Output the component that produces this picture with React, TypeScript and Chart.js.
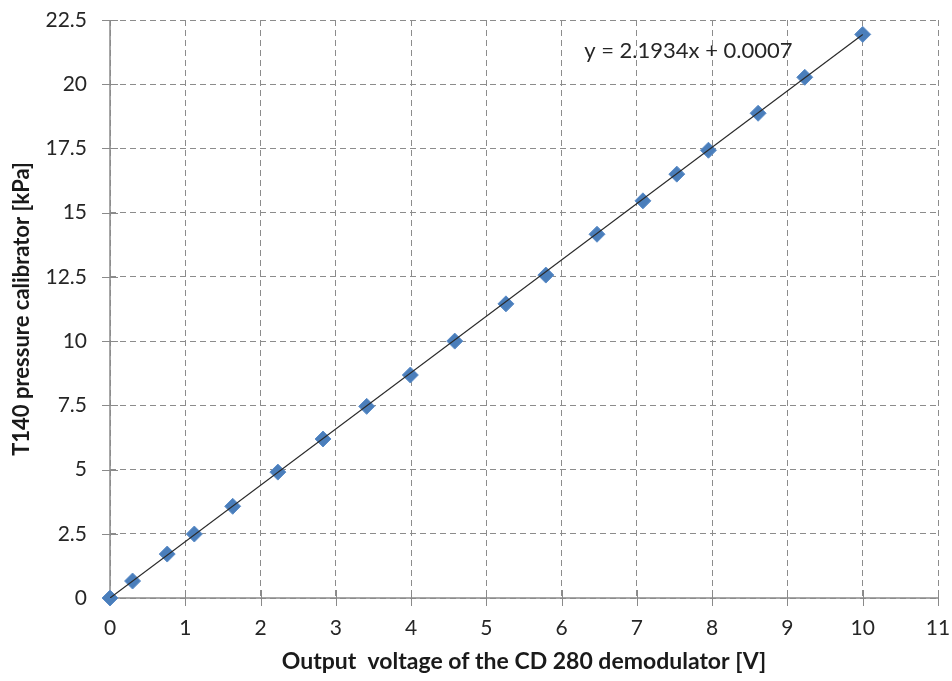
import React, { useEffect, useRef } from "react";
import { Chart, registerables } from "chart.js";

Chart.register(...registerables);

// Calibration measurements: demodulator output voltage vs. calibrator pressure
const voltage = [0, 0.3, 0.76, 1.12, 1.63, 2.23, 2.83, 3.41, 3.99, 4.58, 5.26, 5.79, 6.47, 7.08, 7.53, 7.95, 8.61, 9.23, 10.0];
const pressure = [0, 0.66, 1.71, 2.49, 3.57, 4.9, 6.19, 7.46, 8.68, 10.0, 11.45, 12.57, 14.16, 15.46, 16.5, 17.43, 18.87, 20.27, 21.94];

// Linear trendline y = slope * x + intercept
const slope = 2.1934;
const intercept = 0.0007;
const trendRange = [0, 10];
const equationLabel = "y = 2.1934x + 0.0007";

const xTitle = "Output  voltage of the CD 280 demodulator [V]";
const yTitle = "T140 pressure calibrator [kPa]";

const FONT = "Lato, 'Open Sans', sans-serif";
const AXIS_GRAY = "#8a8a8a";
const GRID_GRAY = "#8c8c8c";

// Solid axis lines with cross tick marks on the left and bottom edges
const axisLinesPlugin = {
  id: "axisLines",
  beforeDatasetsDraw(chart: any) {
    const { ctx, chartArea, scales } = chart;
    const { left, bottom, top, right } = chartArea;
    ctx.save();
    ctx.setLineDash([]);
    ctx.strokeStyle = AXIS_GRAY;
    ctx.lineWidth = 1.5;
    ctx.beginPath();
    ctx.moveTo(left, top);
    ctx.lineTo(left, bottom);
    ctx.lineTo(right, bottom);
    ctx.stroke();
    ctx.lineWidth = 1;
    ctx.beginPath();
    for (const t of scales.y.ticks) {
      const py = Math.round(scales.y.getPixelForValue(t.value)) + 0.5;
      ctx.moveTo(left - 8, py);
      ctx.lineTo(left + 8, py);
    }
    for (const t of scales.x.ticks) {
      const px = Math.round(scales.x.getPixelForValue(t.value)) + 0.5;
      ctx.moveTo(px, bottom - 8);
      ctx.lineTo(px, bottom + 8);
    }
    ctx.stroke();
    ctx.restore();
  },
};

const equationPlugin = {
  id: "equationLabel",
  afterDatasetsDraw(chart: any) {
    const { ctx, scales } = chart;
    const x = scales.x.getPixelForValue(6.3);
    const y = scales.y.getPixelForValue(21.3);
    ctx.save();
    ctx.font = `22px ${FONT}`;
    ctx.fillStyle = "#262626";
    ctx.textAlign = "left";
    ctx.textBaseline = "middle";
    ctx.fillText(equationLabel, x, y);
    ctx.restore();
  },
};

export default function App() {
  const canvasRef = useRef<HTMLCanvasElement | null>(null);

  useEffect(() => {
    document.body.style.margin = "0";
    const canvas = canvasRef.current;
    if (!canvas) return;

    const points = voltage.map((v, i) => ({ x: v, y: pressure[i] }));
    const trend = trendRange.map((v) => ({ x: v, y: slope * v + intercept }));

    const chart = new Chart(canvas, {
      type: "scatter",
      data: {
        datasets: [
          {
            label: "trend",
            type: "line",
            data: trend,
            borderColor: "#2b2b2b",
            borderWidth: 1.2,
            pointRadius: 0,
            showLine: true,
            fill: false,
            order: 0,
          },
          {
            label: "measured",
            data: points,
            pointStyle: "rectRot",
            pointRadius: 8,
            backgroundColor: "#4a7ebb",
            borderColor: "#5b8cc8",
            borderWidth: 1,
            clip: false,
            order: 1,
          },
        ],
      },
      options: {
        responsive: false,
        animation: false,
        layout: { padding: { top: 20, right: 14, left: 0, bottom: 0 } },
        plugins: {
          legend: { display: false },
          tooltip: { enabled: false },
        },
        scales: {
          x: {
            type: "linear",
            min: 0,
            max: 11,
            ticks: {
              stepSize: 1,
              padding: 10,
              color: "#262626",
              font: { family: FONT, size: 21 },
            },
            grid: {
              color: GRID_GRAY,
              lineWidth: 1,
              tickLength: 8,
              tickColor: "rgba(0,0,0,0)",
            },
            border: { display: false, dash: [6, 4] },
            title: {
              display: true,
              text: xTitle,
              color: "#1a1a1a",
              font: { family: FONT, size: 23, weight: "bold" },
              padding: { top: 0, bottom: 6 },
            },
            afterFit(scale: any) {
              scale.height = 83;
              scale.paddingLeft = 0;
              scale.paddingRight = 0;
            },
          },
          y: {
            type: "linear",
            min: 0,
            max: 22.5,
            ticks: {
              stepSize: 2.5,
              padding: 15,
              color: "#262626",
              font: { family: FONT, size: 21 },
            },
            grid: {
              color: GRID_GRAY,
              lineWidth: 1,
              tickLength: 8,
              tickColor: "rgba(0,0,0,0)",
            },
            border: { display: false, dash: [6, 4] },
            title: {
              display: true,
              text: yTitle,
              color: "#1a1a1a",
              font: { family: FONT, size: 22, weight: "bold" },
              padding: { top: 9, bottom: 0 },
            },
            afterFit(scale: any) {
              scale.width = 110;
              scale.paddingTop = 0;
              scale.paddingBottom = 0;
            },
          },
        },
      },
      plugins: [axisLinesPlugin, equationPlugin],
    });

    return () => chart.destroy();
  }, []);

  return (
    <div style={{ position: "fixed", left: 0, top: 0, width: 952, height: 681, background: "#fff" }}>
      <canvas ref={canvasRef} width={952} height={681} />
    </div>
  );
}
